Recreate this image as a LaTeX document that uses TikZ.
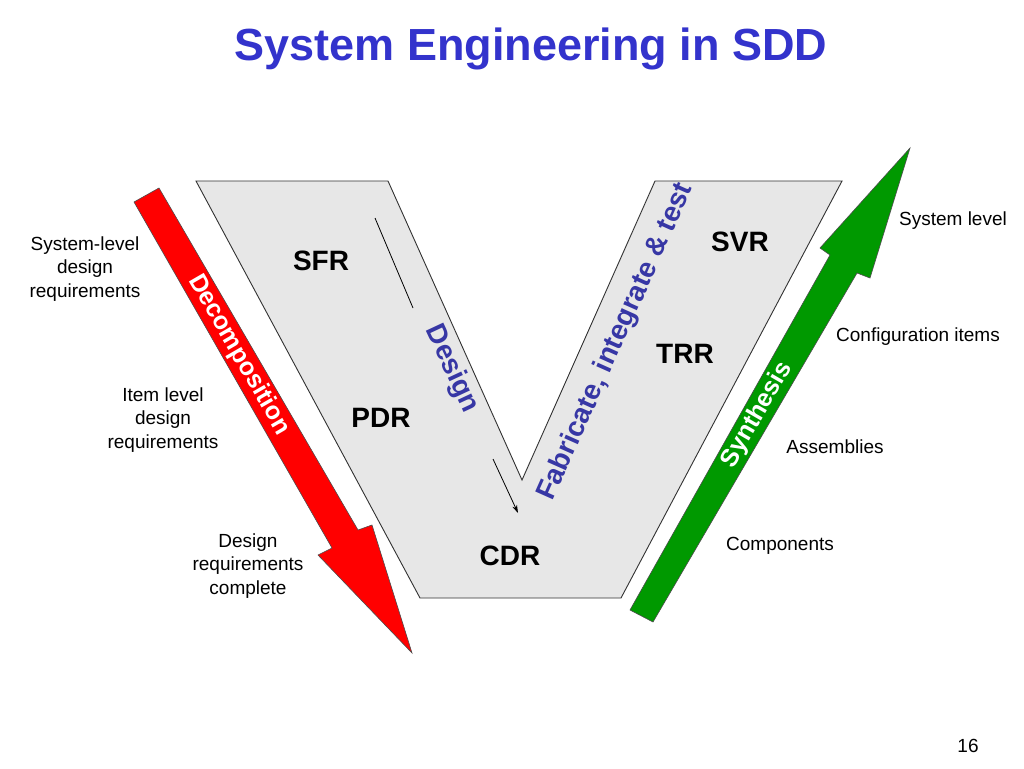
\documentclass[tikz,border=0pt]{standalone}
\usepackage{fontspec}
\setmainfont{Liberation Sans}
\usetikzlibrary{arrows.meta}
\definecolor{titleblue}{RGB}{51,51,204}
\definecolor{phaseblue}{RGB}{55,55,165}
\definecolor{vgray}{RGB}{231,231,231}
\definecolor{arrowgreen}{RGB}{0,153,0}
\definecolor{edgegray}{RGB}{50,50,50}
\begin{document}
\begin{tikzpicture}[x=1pt,y=-1pt,
  review/.style={font=\fontsize{28}{30}\selectfont\bfseries, inner sep=0pt, anchor=base},
  lvl/.style={font=\fontsize{19}{23.5}\selectfont, inner sep=0pt, align=center},
  phase/.style={font=\fontsize{28}{30}\selectfont\bfseries, text=phaseblue, inner sep=0pt},
  bigarrowtext/.style={font=\fontsize{25}{27}\selectfont\bfseries, text=white, inner sep=0pt},
  thinline/.style={draw=black, line width=0.8pt}]
\useasboundingbox (0,0) rectangle (1024,768);
\fill[white] (0,0) rectangle (1024,768);

% Title
\node[font=\fontsize{45}{50}\selectfont\bfseries, text=titleblue, inner sep=0pt, anchor=base] (title) at (531,60) {System Engineering in SDD};

% V shape
\coordinate (vtl) at (196,181);
\coordinate (vtm) at (388,181);
\coordinate (vin) at (522,480);
\coordinate (vrtl) at (655,181);
\coordinate (vrtr) at (842,181);
\coordinate (vbr) at (621,598);
\coordinate (vbl) at (420,598);
\path[fill=vgray, draw=edgegray, line width=0.9pt] (vtl) -- (vtm) -- (vin) -- (vrtl) -- (vrtr) -- (vbr) -- (vbl) -- cycle;

% Design thin line and arrow
\coordinate (dl1) at (375,218);
\coordinate (dl2) at (413,308);
\draw[thinline] (dl1) -- (dl2);
\coordinate (da1) at (493,459);
\coordinate (da2) at (518,513);
\draw[thinline, -{Stealth[length=8pt,width=5pt]}] (da1) -- (da2);

% Red decomposition arrow
\path[fill=red, draw=black!70, line width=0.6pt]
  (159,188) -- (358,530) -- (372,525) -- (412,653) -- (318,555) -- (332,548) -- (134,202) -- cycle;

% Green synthesis arrow
\path[fill=arrowgreen, draw=black!70, line width=0.6pt]
  (630,610) -- (830,255) -- (820,248) -- (910,148) -- (870,278) -- (857,273) -- (653,622) -- cycle;

% Rotated texts
\node[bigarrowtext, rotate=-60] (decomp) at (239,355) {Decomposition};
\node[bigarrowtext, rotate=60] (synth) at (757,415) {Synthesis};
\node[phase, rotate=-65] (design) at (452,369) {Design};
\node[phase, rotate=66] (fab) at (616,342) {Fabricate, integrate \& test};

% Review names
\node[review] (sfr) at (321,270) {SFR};
\node[review] (pdr) at (381,427) {PDR};
\node[review] (cdr) at (510,565) {CDR};
\node[review] (svr) at (740,251) {SVR};
\node[review] (trr) at (685,363) {TRR};

% Left labels
\node[lvl, anchor=north] (sysreq) at (85,236.4) {System-level\\design\\requirements};
\node[lvl, anchor=north] (itemreq) at (163,387.4) {Item level\\design\\requirements};
\node[lvl, anchor=north] (desreq) at (248,533.4) {Design\\requirements\\complete};

% Right labels
\node[lvl, anchor=base] (syslvl) at (953,225) {System level};
\node[lvl, anchor=base] (config) at (918,341) {Configuration items};
\node[lvl, anchor=base] (assem) at (835,453) {Assemblies};
\node[lvl, anchor=base] (comp) at (780,550) {Components};

% Page number
\node[font=\fontsize{19}{21}\selectfont, inner sep=0pt, anchor=base] (page) at (968,752) {16};
\end{tikzpicture}
\end{document}
